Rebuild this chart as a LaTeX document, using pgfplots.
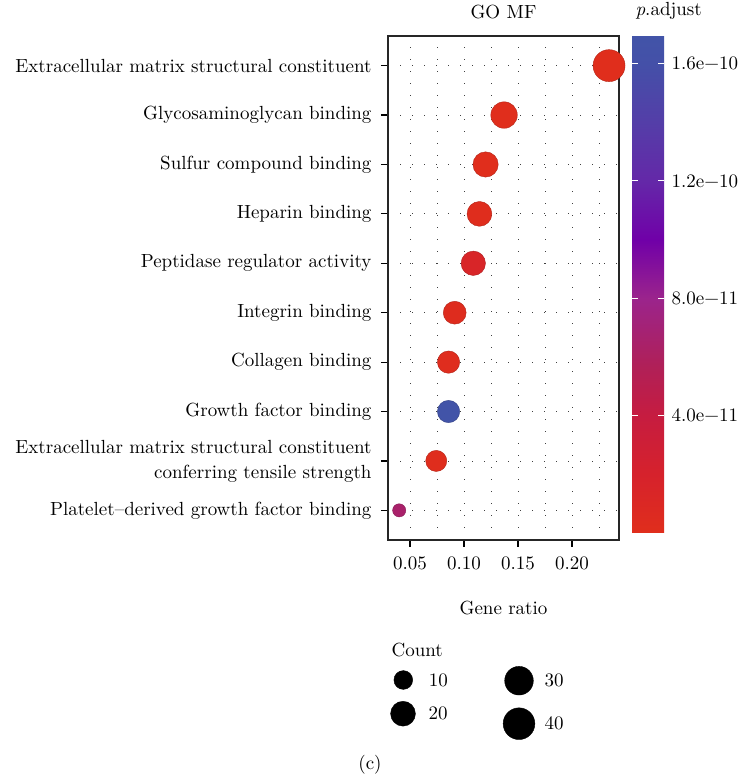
\documentclass[border=0pt]{standalone}
\usepackage{pgfplots}
\pgfplotsset{compat=1.18}
\usepackage{pgfplotstable}
\DeclareFontShape{TU}{lmr}{m}{n}{<-> \UnicodeFontFile{lmroman10-regular}{\UnicodeFontTeXLigatures}}{}
\DeclareFontShape{TU}{lmr}{m}{it}{<-> \UnicodeFontFile{lmroman10-italic}{\UnicodeFontTeXLigatures}}{}
\pgfplotsset{/pgf/number format/assume math mode=true}
\newcommand{\F}{\fontsize{19}{25}\selectfont}

% pos: row (10 = top), ratio = gene ratio, count = gene count, padj = adjusted p
\pgfplotstableread{
pos ratio count padj
10 0.2343 41 1e-15
9 0.1371 24 1e-13
8 0.1200 21 5e-13
7 0.1143 20 1e-12
6 0.1086 19 1.5e-11
5 0.0914 16 3e-12
4 0.0857 15 2e-12
3 0.0857 15 1.694e-10
2 0.0743 13 1e-12
1 0.0400 7 6.5e-11
}\datatable

\begin{document}
\begin{tikzpicture}
\path[use as bounding box] (0pt,0pt) rectangle (741pt,776pt);
\begin{axis}[
  at={(388pt,236pt)}, anchor=south west,
  scale only axis, width=231pt, height=504pt,
  xmin=0.02963, xmax=0.24352, ymin=0.4, ymax=10.6,
  axis line style={line width=1.1pt, black!85},
  xtick={0.05,0.10,0.15,0.20}, xticklabels={0.05,0.10,0.15,0.20},
  minor xtick={0.075,0.125,0.175,0.225},
  ytick={1,2,3,4,5,6,7,8,9,10},
  yticklabels={Platelet\textendash derived growth factor binding,
    {Extracellular matrix structural constituent\\conferring tensile strength},
    Growth factor binding, Collagen binding, Integrin binding,
    Peptidase regulator activity, Heparin binding, Sulfur compound binding,
    Glycosaminoglycan binding, Extracellular matrix structural constituent},
  tick align=outside, tick pos=left,
  major tick length=7pt, minor tick length=0pt,
  every tick/.style={black, line width=1.2pt},
  grid=both,
  major grid style={black!75, line width=0.8pt, dash pattern=on 0.8pt off 11.2pt},
  minor grid style={black!75, line width=0.8pt, dash pattern=on 0.8pt off 11.2pt},
  tick label style={font=\F},
  yticklabel style={align=right, xshift=-6pt},
  xticklabel style={yshift=-6pt},
  title={GO MF}, title style={font=\F, at={(0.5,1)}, anchor=base, yshift=11pt},
  xlabel={Gene ratio}, xlabel style={font=\F, at={(0.5,0)}, anchor=base, yshift=-75pt},
  colormap={gomf}{rgb255(0)=(224,46,28) rgb255(200)=(214,34,44) rgb255(400)=(198,28,64)
    rgb255(570)=(176,32,88) rgb255(800)=(155,36,140) rgb255(1000)=(112,0,168)
    rgb255(1200)=(100,40,168) rgb255(1400)=(84,62,168) rgb255(1600)=(68,80,168)
    rgb255(1694)=(66,84,168)},
  point meta min=0, point meta max=1.694e-10,
  colorbar,
  colorbar/width=32pt,
  colorbar shift/.style={xshift=13pt},
  colorbar style={
    at={(parent axis.north east)}, anchor=north west,
    scale only axis, width=32pt, height=497pt,
    grid=none, scaled y ticks=false, axis on top,
    ytick={4e-11,8e-11,1.2e-10,1.6e-10},
    yticklabels={4.0e−11, 8.0e−11, 1.2e−10, 1.6e−10},
    ytick pos=both, yticklabel pos=right,
    tick align=inside, major tick length=6pt,
    every tick/.style={white, line width=1pt},
    major tick style={white, line width=1pt},
    ytick style={white, line width=1pt},
    axis line style={draw=none},
    yticklabel style={font=\F, xshift=4pt},
    title={\textit{p}.adjust},
    title style={font=\F, at={(0,1)}, anchor=base west, yshift=14pt},
  },
  clip=false,
]
\addplot[scatter, only marks, mark=*, point meta=explicit,
  visualization depends on={6.6+9.4*sqrt((\thisrow{count}-7)/34) \as \rad},
  scatter/@pre marker code/.append style={/tikz/mark size=\rad pt}]
  table[x=ratio, y=pos, meta=padj] {\datatable};
\end{axis}
\begin{axis}[
  at={(0pt,0pt)}, anchor=south west, scale only axis,
  width=741pt, height=776pt, xmin=0, xmax=741, ymin=0, ymax=776,
  hide axis, clip=false,
  every node near coord/.append style={anchor=west, xshift=22pt, text=black, font=\F}]
% size legend: Count = 10, 20, 30, 40 (radius 6.6+9.4*sqrt((count-7)/34))
\addplot[only marks, mark=*, black, mark size=9.39pt, nodes near coords={10}] coordinates {(403.3,96.0)};
\addplot[only marks, mark=*, black, mark size=12.41pt, nodes near coords={20}] coordinates {(403.0,62.3)};
\addplot[only marks, mark=*, black, mark size=14.33pt, nodes near coords={30}] coordinates {(519.0,95.3)};
\addplot[only marks, mark=*, black, mark size=15.86pt, nodes near coords={40}] coordinates {(519.0,52.3)};
\node[anchor=base west, font=\F] at (axis cs:388,119.3) {Count};
\node[anchor=base, font=\F] at (axis cs:370,6) {(c)};
\end{axis}
\end{tikzpicture}
\end{document}
